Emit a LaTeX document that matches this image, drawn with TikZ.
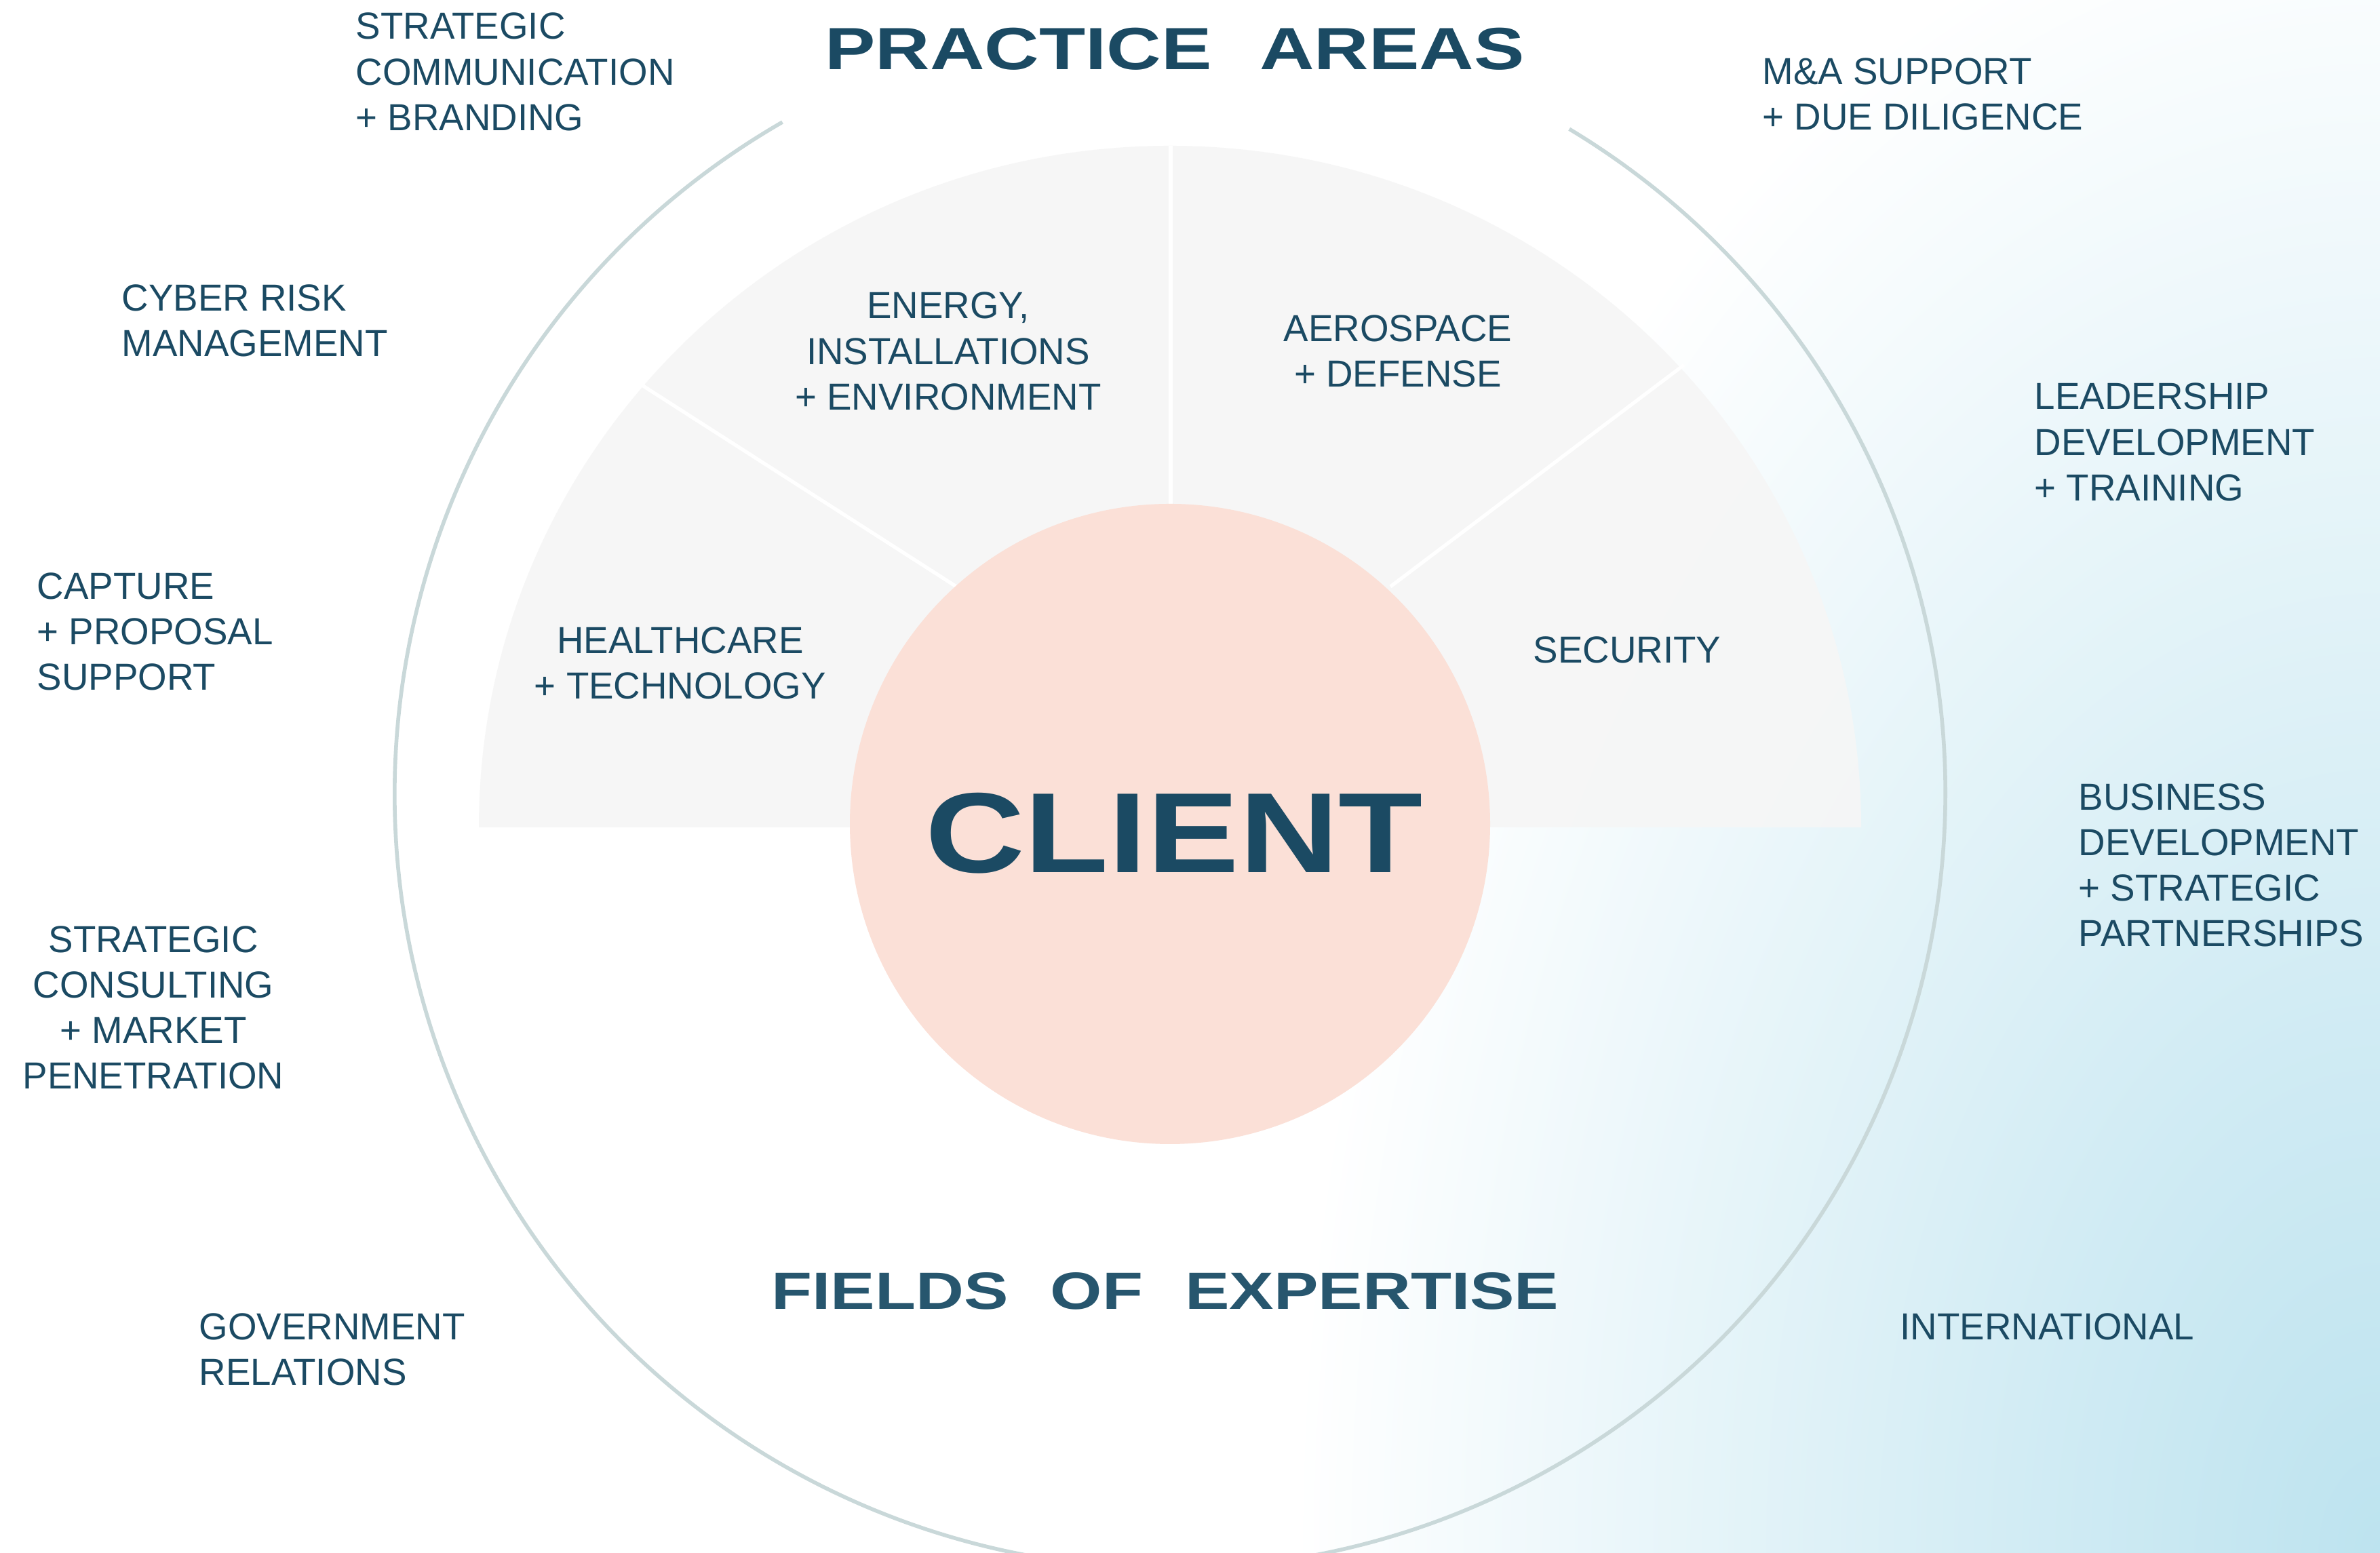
\documentclass[tikz,border=0pt]{standalone}
\usepackage{fontspec}
\usepackage{tikz}
\usetikzlibrary{positioning, calc}
\newfontfamily\labelfont{Liberation Sans}[FakeStretch=0.985]
\newfontfamily\titlefont{Liberation Sans}[FakeStretch=1.27]
\newfontfamily\clientfont{Liberation Sans}[FakeStretch=1.21]
\definecolor{navy}{HTML}{1B4A63}
\definecolor{navylight}{HTML}{27566E}
\definecolor{peach}{HTML}{FBE0D7}
\definecolor{fangrey}{HTML}{F6F6F6}
\definecolor{ringgrey}{HTML}{C9D8D9}
\definecolor{glow}{HTML}{BDE3EF}
\pgfdeclareradialshading{cornerglow}{\pgfpoint{0bp}{0bp}}{color(0bp)=(glow); color(4bp)=(glow!70!white); color(12.5bp)=(white); color(50bp)=(white)}
\newcommand{\wgap}{\hspace{0.45em}}

\begin{document}
\begin{tikzpicture}[
  field/.style={font=\labelfont\fontsize{15.8}{19.1}\selectfont, text=navy, align=left, anchor=west, inner sep=0pt},
  area/.style={field, align=center, anchor=center},
  heading/.style={font=\titlefont\bfseries\fontsize{25}{30}\selectfont, text=navy, inner sep=0pt},
  ring/.style={draw=ringgrey, line width=1.6pt},
  fan/.style={fill=fangrey, fill opacity=0.9},
  divider/.style={draw=white, line width=1.5pt},
]
\useasboundingbox (0,0) rectangle (35.09,22.90);

% Background
\fill[white] (0,0) rectangle (35.09,22.90);
\begin{scope}
  \clip (0,0) rectangle (35.09,22.90);
  \shade[shading=cornerglow] (35.09,0) ellipse (32 and 50);
\end{scope}

% Outer ring
\coordinate (ringc) at (17.25,11.20);
\draw[ring] (ringc) ++(120:11.43) arc[start angle=120, end angle=419, radius=11.43];

% Practice areas fan
\coordinate (fanc) at (17.25,10.70);
\fill[fan] ($(fanc)+(10.19,0)$) arc[start angle=0, end angle=180, x radius=10.19, y radius=10.05] -- cycle;
\coordinate (d1o) at (9.45,17.23);  \coordinate (d1i) at (14.10,14.25);
\coordinate (d2o) at (17.26,20.75); \coordinate (d2i) at (17.26,15.40);
\coordinate (d3o) at (24.83,17.52); \coordinate (d3i) at (20.50,14.25);
\foreach \a in {1,2,3} {
  \draw[divider] (d\a o) -- (d\a i);
}

% Client
\node[circle, fill=peach, minimum size=9.44cm, inner sep=0pt] (client) at (17.25,10.75) {};
\node[font=\clientfont\bfseries\fontsize{47.8}{50}\selectfont, text=navy, inner sep=0pt] (clienttxt) at (17.31,10.61) {CLIENT};

% Headings
\node[heading] (practice) at (17.32,22.175) {PRACTICE\wgap{} AREAS};
\node[heading, font=\titlefont\bfseries\fontsize{22}{26}\selectfont, text=navylight] (fields) at (17.18,3.86) {FIELDS\wgap{} OF\wgap{} EXPERTISE};

% Practice areas
\node[area] (health) at (10.03,13.12) {HEALTHCARE\\+ TECHNOLOGY};
\node[area] (energy) at (13.98,17.72) {ENERGY,\\INSTALLATIONS\\+ ENVIRONMENT};
\node[area] (aero) at (20.61,17.72) {AEROSPACE\\+ DEFENSE};
\node[area] (security) at (23.99,13.32) {SECURITY};

% Fields of expertise
\foreach \nm/\x/\y/\txt in {
  comm/5.24/21.84/{STRATEGIC\\COMMUNICATION\\+ BRANDING},
  cyber/1.79/18.17/{CYBER RISK\\MANAGEMENT},
  capture/0.54/13.585/{CAPTURE\\+ PROPOSAL\\SUPPORT},
  govt/2.93/3.00/{GOVERNMENT\\RELATIONS},
  mna/25.98/21.515/{M\&A SUPPORT\\+ DUE DILIGENCE},
  lead/29.99/16.38/{LEADERSHIP\\DEVELOPMENT\\+ TRAINING},
  bizdev/30.64/10.14/{BUSINESS\\DEVELOPMENT\\+ STRATEGIC\\PARTNERSHIPS},
  intl/28.01/3.335/{INTERNATIONAL}} {
  \node[field] (\nm) at (\x,\y) {\txt};
}
\node[area] (consult) at (2.26,8.04) {STRATEGIC\\CONSULTING\\+ MARKET\\PENETRATION};
\end{tikzpicture}
\end{document}
